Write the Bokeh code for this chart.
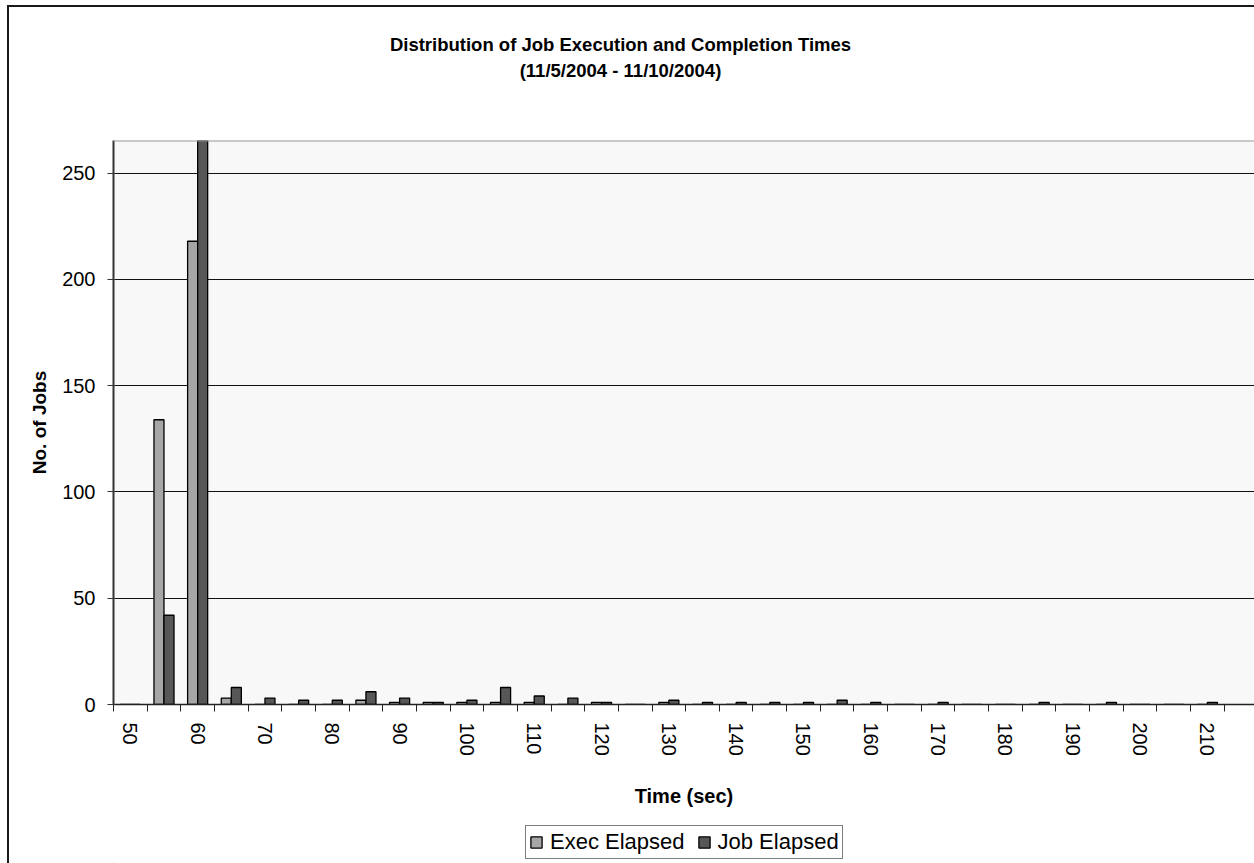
from bokeh.plotting import figure
from bokeh.models import (ColumnDataSource, Range1d, FixedTicker, Legend, LegendItem, Span)
from bokeh.core.properties import value
from bokeh.layouts import column
from bokeh.transform import dodge
from bokeh.embed import file_html
from bokeh.resources import INLINE

# ---- data ----
time_bins = [50, 55, 60, 65, 70, 75, 80, 85, 90, 95, 100, 105, 110, 115, 120, 125,
             130, 135, 140, 145, 150, 155, 160, 165, 170, 175, 180, 185, 190, 195,
             200, 205, 210]
exec_elapsed = [0, 134, 218, 3, 0, 0, 0, 2, 1, 1, 1, 1, 1, 0, 1, 0,
                1, 0, 0, 0, 0, 0, 0, 0, 0, 0, 0, 0, 0, 0,
                0, 0, 0]
job_elapsed = [0, 42, 266, 8, 3, 2, 2, 6, 3, 1, 2, 8, 4, 3, 1, 0,
               2, 1, 1, 1, 1, 2, 1, 0, 1, 0, 0, 1, 0, 1,
               0, 0, 1]
x_tick_labels = [50, 60, 70, 80, 90, 100, 110, 120, 130, 140, 150, 160, 170, 180, 190, 200, 210]
y_ticks = [0, 50, 100, 150, 200, 250]
series_names = ["Exec Elapsed", "Job Elapsed"]
series_colors = ["#a6a6a6", "#575757"]

title_lines = ["Distribution of Job Execution and Completion Times",
               "(11/5/2004 - 11/10/2004)"]

FONT = "Liberation Sans"
W = 1245
LEFT = 104  # width of the left margin (axis area) in px
Y_MAX = 265.4


def blank_fig(h):
    # frames of the stacked figures are aligned with the main plot's frame,
    # so the x range here is expressed in canvas pixels of that frame
    f = figure(width=W, height=h, output_backend="svg", toolbar_location=None,
               x_axis_type=None, y_axis_type=None, title=None,
               x_range=Range1d(LEFT, W), y_range=Range1d(0, h),
               min_border=0, min_border_left=LEFT, min_border_right=0,
               min_border_top=0, min_border_bottom=0)
    f.outline_line_color = None
    f.background_fill_color = "white"
    f.border_fill_color = "white"
    f.grid.visible = False
    return f


# ---- title strip ----
tfig = blank_fig(132)
tsrc = ColumnDataSource(dict(x=[611, 611], y=[95, 69], text=title_lines))
tfig.text(x="x", y="y", text="text", source=tsrc, text_align="center",
          text_baseline="middle", text_font=value(FONT), text_font_size="18.5px",
          text_font_style="bold", text_color="black")

# ---- main chart ----
src = ColumnDataSource(dict(t=time_bins, ex=exec_elapsed, job=job_elapsed))
p = figure(width=W, height=679, output_backend="svg", toolbar_location=None, title=None,
           x_range=Range1d(47.5, 217.0), y_range=Range1d(0, Y_MAX),
           min_border_left=LEFT, min_border_right=0, min_border_top=1,
           min_border_bottom=114)
p.background_fill_color = "#f8f8f8"
p.border_fill_color = "white"
p.outline_line_color = None
p.add_layout(Span(location=Y_MAX, dimension="width", line_color="#9a9a9a", line_width=2))

w = 1.49
r_exec = p.vbar(x=dodge("t", -w / 2, range=p.x_range), top="ex", width=w, source=src,
                fill_color=series_colors[0], line_color="black", line_width=1.3)
r_job = p.vbar(x=dodge("t", w / 2, range=p.x_range), top="job", width=w, source=src,
               fill_color=series_colors[1], line_color="black", line_width=1.3)

xa = p.xaxis[0]
xa.ticker = FixedTicker(ticks=x_tick_labels, minor_ticks=[b - 2.5 for b in time_bins] + [212.5])
xa.major_tick_out = 0
xa.major_tick_in = 0
xa.minor_tick_out = 7
xa.minor_tick_in = 0
xa.minor_tick_line_color = "#222222"
xa.axis_line_color = "#222222"
xa.axis_line_width = 1.5
xa.major_label_orientation = -1.5707963
xa.major_label_standoff = 11
xa.major_label_text_font = FONT
xa.major_label_text_font_size = "20px"
xa.major_label_text_color = "black"
xa.axis_label = "Time (sec)"
xa.axis_label_text_font = FONT
xa.axis_label_text_font_size = "20px"
xa.axis_label_text_font_style = "bold"
xa.axis_label_text_color = "black"
xa.axis_label_standoff = 26

ya = p.yaxis[0]
ya.ticker = FixedTicker(ticks=y_ticks)
ya.major_tick_out = 6
ya.major_tick_in = 2
ya.minor_tick_out = 0
ya.minor_tick_in = 0
ya.axis_line_color = "#333333"
ya.axis_line_width = 2
ya.major_tick_line_color = "#333333"
ya.major_label_text_font = FONT
ya.major_label_text_font_size = "20px"
ya.major_label_text_color = "black"
ya.major_label_standoff = 12
ya.axis_label = "No. of Jobs"
ya.axis_label_text_font = FONT
ya.axis_label_text_font_size = "19px"
ya.axis_label_text_font_style = "bold"
ya.axis_label_text_color = "black"
ya.axis_label_standoff = 9

p.xgrid.grid_line_color = None
p.ygrid.ticker = FixedTicker(ticks=y_ticks)
p.ygrid.grid_line_color = "#111111"
p.ygrid.grid_line_width = 1

# ---- legend strip ----
lfig = blank_fig(45)
items = []
for name, col in zip(series_names, series_colors):
    # proxy renderer placed far outside the visible ranges, only used for the legend swatch
    r = lfig.vbar(x=[-5000], bottom=[-500], top=[-400], width=1, fill_color=col,
                  line_color="black", line_width=1.3)
    items.append(LegendItem(label=name, renderers=[r]))
legend = Legend(items=items, orientation="horizontal", location=(412, 4),
                label_text_font=FONT, label_text_font_size="22px", label_text_color="black",
                glyph_width=14, glyph_height=14, label_standoff=7, spacing=12,
                padding=3, margin=0, border_line_color="black", border_line_width=1,
                background_fill_color="white", label_height=22)
lfig.add_layout(legend, "center")

layout = column(tfig, p, lfig, spacing=0, margin=(5, 0, 0, 7),
                styles={"border-left": "2px solid #1a1a1a", "border-top": "2px solid #1a1a1a"})

open("out.html", "w").write(file_html(layout, INLINE))
